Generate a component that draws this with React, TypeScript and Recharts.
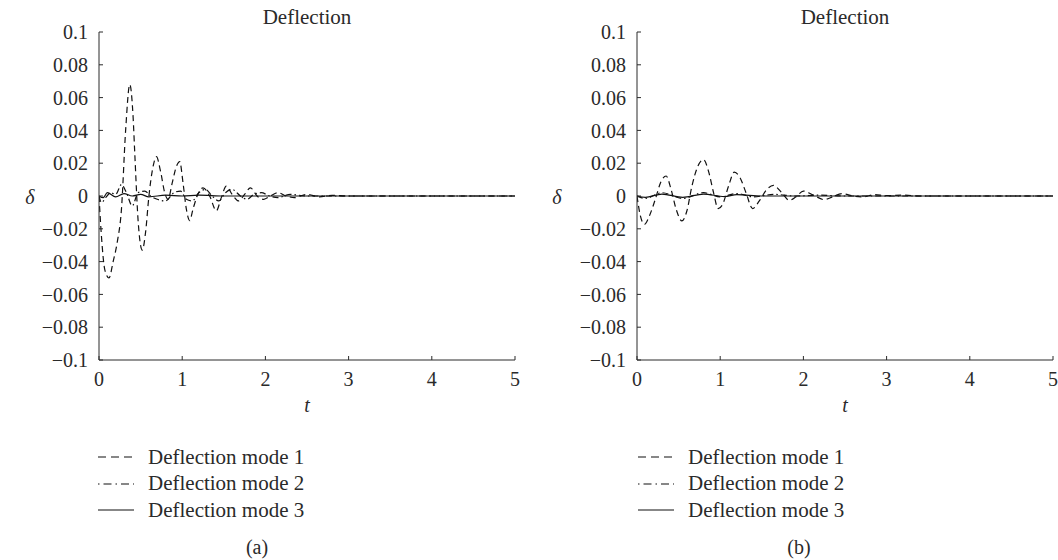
import { LineChart, Line, XAxis, YAxis } from "recharts";

// panel (a)
const tMode1A = [0, 0.03, 0.07, 0.12, 0.17, 0.22, 0.27, 0.32, 0.37, 0.41, 0.43, 0.47, 0.52, 0.56, 0.6, 0.65, 0.69, 0.74, 0.79, 0.83, 0.88, 0.93, 0.97, 1.01, 1.05, 1.09, 1.13, 1.18, 1.25, 1.33, 1.41, 1.47, 1.53, 1.6, 1.68, 1.75, 1.82, 1.9, 1.98, 2.06, 2.15, 2.25, 2.35, 2.5, 2.65, 2.8, 3.0, 3.5, 4, 4.5, 5];
const mode1A = [0, -0.025, -0.045, -0.05, -0.04, -0.028, -0.008, 0.04, 0.068, 0.048, 0.026, -0.015, -0.033, -0.022, 0.0, 0.018, 0.024, 0.015, 0.002, -0.002, 0.008, 0.018, 0.021, 0.008, -0.008, -0.015, -0.008, 0.0, 0.005, 0.0, -0.009, -0.001, 0.006, 0.001, -0.003, 0.001, 0.005, 0.0, -0.002, 0.0, 0.002, 0.0, -0.001, 0.001, -0.0005, 0.0004, 0, 0, 0, 0, 0];

const tMode2A = [0, 0.03, 0.08, 0.14, 0.2, 0.27, 0.33, 0.4, 0.47, 0.55, 0.62, 0.7, 0.8, 0.9, 0.98, 1.05, 1.12, 1.2, 1.28, 1.36, 1.44, 1.52, 1.6, 1.7, 1.78, 1.86, 1.95, 2.05, 2.15, 2.3, 2.5, 3, 4, 5];
const mode2A = [0, -0.004, -0.001, 0.002, 0.001, 0.007, 0.002, -0.006, 0.002, 0.003, 0.0, -0.002, -0.003, 0.002, 0.003, -0.002, -0.003, 0.002, 0.004, 0.0, -0.003, 0.002, 0.004, 0.0, -0.002, 0.001, 0.002, 0, -0.001, 0.001, 0, 0, 0, 0];

const tMode3A = [0, 0.05, 0.1, 0.2, 0.3, 0.4, 0.5, 0.6, 0.8, 1.0, 1.2, 1.5, 3, 5];
const mode3A = [0, -0.001, 0.002, -0.0005, 0.0015, 0, 0.001, -0.0005, 0.0005, 0, 0.0005, 0, 0, 0];

// panel (b)
const tMode1B = [0, 0.04, 0.09, 0.15, 0.22, 0.29, 0.35, 0.41, 0.47, 0.54, 0.6, 0.66, 0.73, 0.8, 0.86, 0.92, 0.975, 1.03, 1.1, 1.17, 1.24, 1.31, 1.39, 1.47, 1.56, 1.64, 1.74, 1.83, 1.91, 2.0, 2.12, 2.25, 2.35, 2.46, 2.6, 2.72, 2.85, 3.0, 3.2, 3.4, 3.7, 4, 4.5, 5];
const mode1B = [0, -0.012, -0.0173, -0.012, -0.002, 0.009, 0.0122, 0.004, -0.008, -0.0152, -0.009, 0.006, 0.018, 0.0222, 0.015, 0.002, -0.0077, -0.005, 0.006, 0.0146, 0.011, 0.002, -0.0077, -0.003, 0.004, 0.0065, 0.002, -0.0026, -0.0005, 0.003, 0.0005, -0.0022, -0.0005, 0.0015, 0.0, -0.0005, 0.0008, 0.0002, 0.0005, 0, 0, 0, 0, 0];

const tMode2B = [0, 0.1, 0.3, 0.55, 0.8, 1.0, 1.2, 1.4, 1.65, 1.9, 2.2, 2.5, 5];
const mode2B = [0, -0.0015, 0.002, -0.0015, 0.002, -0.0005, 0.0015, -0.0005, 0.001, 0, 0.0005, 0, 0];

const tMode3B = [0, 0.1, 0.3, 0.55, 0.8, 1.05, 1.2, 1.5, 5];
const mode3B = [0, -0.0008, 0.0012, -0.0008, 0.0012, -0.0003, 0.0008, 0, 0];

const xTicks = [0, 1, 2, 3, 4, 5];
const yTicks = [-0.1, -0.08, -0.06, -0.04, -0.02, 0, 0.02, 0.04, 0.06, 0.08, 0.1];
const legendNames = ["Deflection mode 1", "Deflection mode 2", "Deflection mode 3"];

const FONT = "'Liberation Serif', serif";
const INK = "#2a2a2a";
const DASH = ["6 4", "6 3 1.5 3", ""];

const toRows = (ts: number[], vs: number[]) => ts.map((t, i) => ({ t, v: vs[i] }));

const fmtY = (v: number) => {
  if (v === 0) return "0";
  const s = Number(Math.abs(v).toFixed(2)).toString();
  return v < 0 ? "\u2212" + s : s;
};

const tickStyle = { fill: INK, fontSize: 20, fontFamily: FONT };

function Panel({ series }: { series: { t: number; v: number }[][] }) {
  return (
    <LineChart width={530} height={420} margin={{ top: 32, right: 15, left: 0, bottom: 30 }}>
      <XAxis
        dataKey="t"
        type="number"
        domain={[0, 5]}
        ticks={xTicks}
        allowDataOverflow
        height={30}
        tickSize={-4}
        tickMargin={16}
        stroke={INK}
        tick={tickStyle}
      />
      <XAxis
        xAxisId="top"
        orientation="top"
        dataKey="t"
        type="number"
        domain={[0, 5]}
        ticks={xTicks}
        height={0}
        tickSize={-4}
        stroke={INK}
        tickFormatter={() => ""}
      />
      <YAxis
        type="number"
        domain={[-0.1, 0.1]}
        ticks={yTicks}
        allowDataOverflow
        width={99}
        tickSize={-4}
        tickMargin={15}
        stroke={INK}
        tick={tickStyle}
        tickFormatter={fmtY}
      />
      <YAxis
        yAxisId="right"
        orientation="right"
        type="number"
        domain={[-0.1, 0.1]}
        ticks={yTicks}
        width={0}
        tickSize={-4}
        stroke={INK}
        tickFormatter={() => ""}
      />
      {series.map((rows, i) => (
        <Line
          key={i}
          data={rows}
          dataKey="v"
          type="monotone"
          stroke="#111"
          strokeWidth={1.2}
          strokeDasharray={DASH[i] || undefined}
          dot={false}
          isAnimationActive={false}
        />
      ))}
    </LineChart>
  );
}

function Txt({ x, y, children, italic, size = 20 }: { x: number; y: number; children: string; italic?: boolean; size?: number }) {
  return (
    <div
      style={{
        position: "absolute",
        left: x,
        top: y,
        transform: "translate(-50%, -50%)",
        whiteSpace: "nowrap",
        lineHeight: 1,
        fontFamily: FONT,
        fontSize: size,
        color: INK,
        fontStyle: italic ? "italic" : "normal",
      }}
    >
      {children}
    </div>
  );
}

function Legend({ x, y }: { x: number; y: number }) {
  return (
    <div style={{ position: "absolute", left: x, top: y }}>
      {legendNames.map((name, i) => (
        <div key={name} style={{ display: "flex", alignItems: "center", height: 26.5 }}>
          <svg width={36} height={10} style={{ marginRight: 14 }}>
            <line
              x1={0}
              y1={5}
              x2={36}
              y2={5}
              stroke="#111"
              strokeWidth={1.2}
              strokeDasharray={i === 0 ? "8 5" : i === 1 ? "1.5 4 8 4" : undefined}
            />
          </svg>
          <span style={{ fontFamily: FONT, fontSize: 21, color: INK, lineHeight: 1 }}>{name}</span>
        </div>
      ))}
    </div>
  );
}

export default function App() {
  const seriesA = [toRows(tMode1A, mode1A), toRows(tMode2A, mode2A), toRows(tMode3A, mode3A)];
  const seriesB = [toRows(tMode1B, mode1B), toRows(tMode2B, mode2B), toRows(tMode3B, mode3B)];
  return (
    <div
      style={{
        position: "absolute",
        left: 0,
        top: 0,
        width: 1058,
        height: 560,
        overflow: "hidden",
        background: "#fff",
      }}
    >
      <div style={{ position: "absolute", left: 0, top: 0 }}>
        <Panel series={seriesA} />
      </div>
      <div style={{ position: "absolute", left: 538, top: 0 }}>
        <Panel series={seriesB} />
      </div>

      <Txt x={307} y={17} size={21}>Deflection</Txt>
      <Txt x={845} y={17} size={21}>Deflection</Txt>
      <Txt x={30} y={197} italic>δ</Txt>
      <Txt x={557} y={197} italic>δ</Txt>
      <Txt x={307} y={405} italic>t</Txt>
      <Txt x={845} y={405} italic>t</Txt>

      <Legend x={98} y={444} />
      <Legend x={638} y={444} />

      <Txt x={257} y={547}>(a)</Txt>
      <Txt x={799} y={547}>(b)</Txt>
    </div>
  );
}
